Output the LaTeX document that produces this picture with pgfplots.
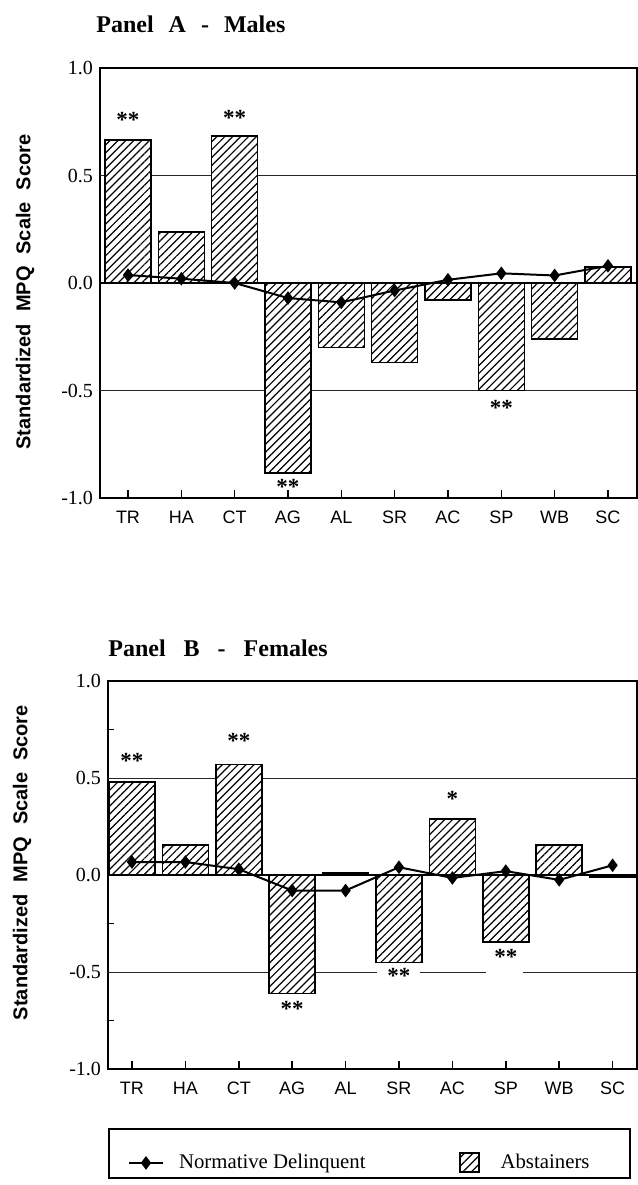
\documentclass[border=0pt]{standalone}
\usepackage{fontspec}
\setmainfont{Liberation Serif}
\newfontfamily\hv{Liberation Sans}
\usepackage{pgfplots}
\usepackage{pgfplotstable}
\pgfplotsset{compat=1.18}
\usetikzlibrary{patterns.meta}

\pgfplotstableread{
x bar line
0 0.665 0.037
1 0.237 0.02
2 0.684 0.0
3 -0.884 -0.07
4 -0.30 -0.09
5 -0.37 -0.035
6 -0.08 0.015
7 -0.50 0.045
8 -0.26 0.035
9 0.075 0.08
}\dataA

\pgfplotstableread{
x bar line
0 0.48 0.067
1 0.155 0.067
2 0.57 0.03
3 -0.61 -0.08
4 0.01 -0.08
5 -0.45 0.04
6 0.29 -0.015
7 -0.345 0.02
8 0.155 -0.025
9 -0.01 0.05
}\dataB

\tikzset{hatch/.style={fill=white, postaction={pattern={Lines[angle=45,distance=2.8pt,line width=0.6pt]}}}}

\pgfplotsset{panel/.style={
  scale only axis,
  axis line style={line width=1pt},
  ymin=-1, ymax=1,
  xtick={0,1,2,3,4,5,6,7,8,9},
  xticklabels={TR,HA,CT,AG,AL,SR,AC,SP,WB,SC},
  xticklabel style={font=\hv\fontsize{9}{10}\selectfont, yshift=-3pt},
  ytick={-1,-0.5,0,0.5,1},
  yticklabels={-1.0,-0.5,0.0,0.5,1.0},
  yticklabel style={font=\fontsize{10}{12}\selectfont},
  tick align=inside,
  xtick pos=left, ytick pos=left,
  major tick length=4pt,
  minor tick length=3pt,
  every major y tick/.append style={draw=none},
  xtick style={line width=0.8pt, black},
  minor y tick style={line width=0.6pt, black},
  ylabel={\hv\bfseries Standardized\hspace{6pt}MPQ\hspace{6pt}Scale\hspace{6pt}Score},
  ylabel style={font=\fontsize{10}{12}\selectfont},
}}

\newcommand{\stars}{\bfseries\fontsize{11.5}{11.5}\selectfont}
\newcommand{\lstrut}{\rule[-2.3pt]{0pt}{18.5pt}}

\begin{document}
\begin{tikzpicture}
\useasboundingbox (0,0) rectangle (319pt,-592.5pt);

\node[anchor=base west, inner sep=0pt, font=\bfseries\fontsize{12}{14}\selectfont] at (48pt,-16pt) {Panel\hspace{7.5pt}A\hspace{7.5pt}-\hspace{7.5pt}Males};
\node[anchor=base west, inner sep=0pt, font=\bfseries\fontsize{12}{14}\selectfont] at (54pt,-328pt) {Panel\hspace{9pt}B\hspace{9pt}-\hspace{9pt}Females};

% Panel A
\begin{axis}[panel,
  at={(50pt,-249pt)}, anchor=south west,
  width=268.5pt, height=215pt,
  xmin=-0.525, xmax=9.544,
  every axis y label/.style={at={(axis description cs:-0.1397,0.479)}, rotate=90, anchor=center},
]
\addplot[forget plot, line width=0.5pt, black!85] coordinates {(-1,0.5) (10,0.5)};
\addplot[forget plot, line width=0.5pt, black!85] coordinates {(-1,-0.5) (10,-0.5)};
\addplot[forget plot, ybar, bar width=0.863, bar shift=0pt, draw=black, line width=0.8pt, hatch] table[x=x,y=bar]{\dataA};
\addplot[forget plot, line width=1.2pt, black] coordinates {(-1,0) (10,0)};
\addplot[forget plot, black, line width=1pt, mark=diamond*, mark size=2.6pt] table[x=x,y=line]{\dataA};
\node[font=\stars] at (axis cs:0,0.76) {**};
\node[font=\stars] at (axis cs:2,0.77) {**};
\node[font=\stars] at (axis cs:3,-0.95) {**};
\node[font=\stars] at (axis cs:7,-0.58) {**};
\end{axis}

% Panel B
\begin{axis}[panel,
  at={(54pt,-534.5pt)}, anchor=south west,
  width=264.5pt, height=194pt,
  xmin=-0.449, xmax=9.457,
  minor ytick={-0.75,-0.25,0.25,0.75},
  every axis y label/.style={at={(axis description cs:-0.1626,0.532)}, rotate=90, anchor=center},
  legend columns=2,
  legend cell align=left,
  legend style={at={(0,-0.152)}, anchor=north west, draw=black, line width=1pt,
    font=\fontsize{10.4}{12}\selectfont, inner xsep=9.5pt, inner ysep=1.5pt,
    /tikz/every odd column/.append style={column sep=5.5pt},
    /tikz/every even column/.append style={column sep=44.5pt}},
]
\addplot[forget plot, line width=0.5pt, black!85] coordinates {(-1,0.5) (10,0.5)};
\addplot[forget plot, line width=0.5pt, black!85] coordinates {(-1,-0.5) (6.63,-0.5)};
\addplot[forget plot, line width=0.5pt, black!85] coordinates {(7.32,-0.5) (10,-0.5)};
\addplot[forget plot, ybar, bar width=0.863, bar shift=0pt, draw=black, line width=0.8pt, hatch] table[x=x,y=bar]{\dataB};
\addplot[forget plot, line width=1.2pt, black] coordinates {(-1,0) (10,0)};
\addplot[forget plot, black, line width=1pt, mark=diamond*, mark size=2.6pt] table[x=x,y=line]{\dataB};
\node[font=\stars] at (axis cs:0,0.59) {**};
\node[font=\stars] at (axis cs:2,0.69) {**};
\node[font=\stars] at (axis cs:6,0.39) {*};
\node[font=\stars] at (axis cs:3,-0.69) {**};
\node[font=\stars, fill=white, inner xsep=5pt, inner ysep=1pt] at (axis cs:5,-0.52) {**};
\node[font=\stars] at (axis cs:7,-0.42) {**};
\addlegendimage{legend image code/.code={\draw[black, line width=1pt, mark=diamond*, mark size=2.6pt, mark repeat=2, mark phase=2, yshift=-4.6pt] plot coordinates {(0pt,0pt) (8.5pt,0pt) (17pt,0pt)};}}
\addlegendentry{\lstrut Normative Delinquent}
\addlegendimage{legend image code/.code={\draw[black, line width=1pt, fill=white, postaction={pattern={Lines[angle=45,distance=3pt,line width=0.6pt]}}, yshift=-4.6pt] (0pt,-4.75pt) rectangle (9.5pt,4.75pt);}}
\addlegendentry{\lstrut\kern3pt Abstainers\kern8.5pt}
\end{axis}
\end{tikzpicture}
\end{document}
